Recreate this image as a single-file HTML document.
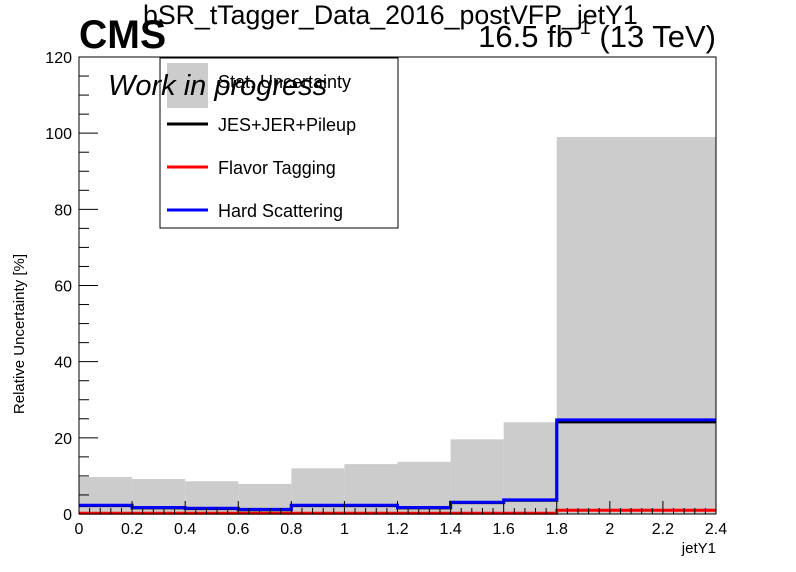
<!DOCTYPE html>
<html><head><meta charset="utf-8"><style>
html,body{margin:0;padding:0;background:#fff;}
svg{display:block;font-family:"Liberation Sans",sans-serif;}
</style></head><body>
<svg id="chart" width="796" height="572">
<g id="marks"></g>
<rect x="79" y="57" width="637" height="457" fill="none" stroke="#000" stroke-width="1"/>
<g id="axes"></g>
<text x="79" y="48" font-size="40" font-weight="bold" transform="translate(79,0) scale(0.98,1) translate(-79,0)">CMS</text>
<text x="143" y="24" font-size="27" transform="translate(143,0) scale(0.99,1) translate(-143,0)">bSR_tTagger_Data_2016_postVFP_jetY1</text>
<text x="716" y="47" font-size="31" text-anchor="end">16.5 fb<tspan dy="-13" font-size="20">-1</tspan><tspan dy="13"> (13 TeV)</tspan></text>
<g>
<rect x="160" y="58" width="238" height="170" fill="none" stroke="#000" stroke-width="1"/>
<rect x="167" y="63" width="41" height="45" fill="#cccccc"/>
<text x="218" y="88" font-size="18">Stat. Uncertainty</text>
<line x1="167" y1="124" x2="208" y2="124" stroke="#000" stroke-width="3"/>
<text x="218" y="131" font-size="18">JES+JER+Pileup</text>
<line x1="167" y1="167" x2="208" y2="167" stroke="#ff0000" stroke-width="3"/>
<text x="218" y="174" font-size="18">Flavor Tagging</text>
<line x1="167" y1="210" x2="208" y2="210" stroke="#0000ff" stroke-width="3"/>
<text x="218" y="217" font-size="18">Hard Scattering</text>
</g>
<text x="108" y="95" font-size="29" font-style="italic">Work in progress</text>
<text x="716" y="553" font-size="15" text-anchor="end">jetY1</text>
<text transform="translate(24,254) rotate(-90)" font-size="15" text-anchor="end">Relative Uncertainty [%]</text>
</svg>
<script>
const binEdges=[0,0.2,0.4,0.6,0.8,1.0,1.2,1.4,1.6,1.8,2.4];
const statUnc=[9.7,9.2,8.6,7.9,12.0,13.1,13.7,19.6,24.1,99.0];
const jesUnc=[2.2,1.6,1.4,1.1,2.2,2.2,1.6,3.0,3.6,24.2];
const flavorUnc=[0.2,0.2,0.2,0.2,0.2,0.2,0.2,0.2,0.2,1.0];
const hardUnc=[2.3,1.7,1.5,1.2,2.3,2.3,1.7,3.1,3.7,24.7];
const xTicks=[0,0.2,0.4,0.6,0.8,1,1.2,1.4,1.6,1.8,2,2.2,2.4];
const yTicks=[0,20,40,60,80,100,120];
const NS="http://www.w3.org/2000/svg";
const X0=79,X1=716,Y0=514,Y1=57;
function xs(v){return X0+(v-0)/(2.4-0)*(X1-X0);}
function ys(v){return Y0-(v/120)*(Y0-Y1);}
const marks=document.getElementById('marks'),axes=document.getElementById('axes');
function mk(tag,attrs,parent){const e=document.createElementNS(NS,tag);for(const k in attrs)e.setAttribute(k,attrs[k]);parent.appendChild(e);return e;}
statUnc.forEach((v,i)=>{
 const r=mk('rect',{x:xs(binEdges[i]),y:ys(v),width:xs(binEdges[i+1])-xs(binEdges[i]),height:Y0-ys(v),fill:'#cccccc'},marks);
 
 
});
function step(vals,color,name){
 let d='';
 vals.forEach((v,i)=>{d+=(i===0?'M':'L')+xs(binEdges[i])+','+ys(v)+' L'+xs(binEdges[i+1])+','+ys(v)+' ';});
 const p=mk('path',{d:d,fill:'none',stroke:color,'stroke-width':3},marks);
 
 
}
step(jesUnc,'#000','jes-line');
step(flavorUnc,'#ff0000','flavor-line');
step(hardUnc,'#0000ff','hard-scattering-line');
for(let v=0;v<=2.4001;v+=0.04){
 const isMaj=Math.abs(v/0.2-Math.round(v/0.2))<1e-6;
 const l=mk('line',{x1:xs(v),x2:xs(v),y1:Y0,y2:Y0-(isMaj?13:6),stroke:'#000','stroke-width':1},axes);
 
 
}
xTicks.forEach(v=>{
 const t=mk('text',{x:xs(v),y:534,'font-size':16,'text-anchor':'middle'},axes);
 t.textContent=String(v);
 
 
});
for(let v=0;v<=120;v+=5){
 const isMaj=v%20===0;
 const l=mk('line',{x1:X0,x2:X0+(isMaj?19:10),y1:ys(v),y2:ys(v),stroke:'#000','stroke-width':1},axes);
 
 
}
yTicks.forEach(v=>{
 const t=mk('text',{x:72,y:ys(v)+6,'font-size':16,'text-anchor':'end'},axes);
 t.textContent=String(v);
 
 
});
</script>
</body></html>
